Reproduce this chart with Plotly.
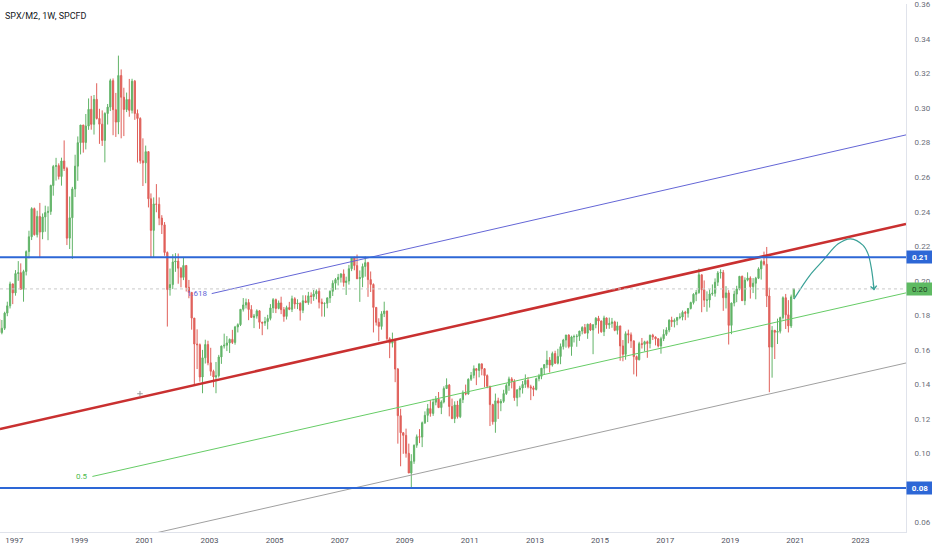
import pandas as pd
import plotly.graph_objects as go

# monthly SPX/M2 ratio, Jul 1996 .. Dec 2020
first_open = 0.1778
closes = [
    .1700, .1725, .1813, .1855, .1982, .1930,
    .2042, .2047, .1951, .2054, .2169, .2255, .2418, .2267, .2373, .2282, .2370, .2395,
    .2402, .2552, .2662, .2667, .2604, .2694, .2650, .2247, .2365, .2532, .2664, .2800,
    .2902, .2801, .2896, .2993, .2906, .3051, .2940, .2907, .2813, .2969, .3006, .3159,
    .2991, .2919, .3189, .3063, .2992, .3050, .2987, .3156, .2969, .2940, .2695, .2683,
    .2748, .2475, .2292, .2445, .2443, .2363, .2324, .2164, .1949, .1978, .2109, .2114,
    .2073, .2020, .2089, .1962, .1933, .1784, .1634, .1630, .1443, .1554, .1631, .1525,
    .1476, .1443, .1450, .1559, .1622, .1627, .1640, .1661, .1643, .1733, .1746, .1835,
    .1860, .1874, .1834, .1788, .1796, .1826, .1760, .1755, .1764, .1782, .1843, .1891,
    .1840, .1872, .1833, .1794, .1845, .1835, .1896, .1866, .1870, .1829, .1884, .1874,
    .1913, .1909, .1924, .1939, .1876, .1868, .1870, .1901, .1939, .1986, .2007, .2020,
    .2040, .1990, .1999, .2070, .2132, .2088, .2012, .2019, .2083, .2105, .2007, .1979,
    .1846, .1760, .1736, .1809, .1825, .1665, .1639, .1660, .1489, .1219, .1120, .1105,
    .1001, .0887, .0955, .1048, .1097, .1095, .1178, .1221, .1260, .1232, .1297, .1315,
    .1266, .1298, .1376, .1396, .1272, .1202, .1281, .1213, .1312, .1351, .1345, .1430,
    .1453, .1491, .1481, .1519, .1491, .1451, .1389, .1283, .1184, .1305, .1292, .1302,
    .1347, .1394, .1432, .1418, .1323, .1369, .1379, .1400, .1424, .1386, .1380, .1371,
    .1433, .1447, .1494, .1515, .1541, .1512, .1579, .1523, .1562, .1619, .1657, .1686,
    .1619, .1675, .1677, .1679, .1709, .1730, .1697, .1749, .1715, .1746, .1783, .1767,
    .1705, .1785, .1745, .1753, .1762, .1713, .1739, .1623, .1574, .1694, .1687, .1652,
    .1561, .1543, .1636, .1632, .1647, .1637, .1685, .1675, .1664, .1623, .1665, .1690,
    .1715, .1772, .1763, .1771, .1787, .1790, .1818, .1812, .1840, .1874, .1922, .1932,
    .2035, .1948, .1888, .1889, .1924, .1928, .1992, .2045, .2048, .1902, .1930, .1742,
    .1871, .1923, .1953, .2026, .1885, .2004, .2016, .1966, .1986, .2015, .2069, .2112,
    .2096, .1912, .1616, .1713, .1702, .1708, .1787, .1902, .1803, .1739, .1907, .1953,
]
highs = [
    .1790, .1773, .1821, .1879, .1995, .1984,
    .2062, .2114, .2101, .2064, .2176, .2290, .2426, .2424, .2406, .2451, .2390, .2435,
    .2431, .2557, .2671, .2712, .2680, .2713, .2813, .2660, .2488, .2544, .2730, .2836,
    .2902, .2903, .2966, .3056, .3071, .3076, .3144, .2996, .2987, .2976, .3024, .3170,
    .3172, .3088, .3304, .3224, .3118, .3090, .3169, .3170, .3163, .2992, .2947, .2825,
    .2783, .2749, .2506, .2483, .2560, .2483, .2380, .2340, .2170, .2071, .2154, .2160,
    .2158, .2080, .2137, .2089, .2005, .1935, .1785, .1719, .1637, .1600, .1659, .1653,
    .1612, .1485, .1530, .1571, .1625, .1694, .1680, .1666, .1716, .1739, .1754, .1835,
    .1900, .1897, .1894, .1859, .1808, .1835, .1830, .1763, .1791, .1803, .1865, .1900,
    .1897, .1886, .1908, .1848, .1856, .1878, .1914, .1905, .1893, .1875, .1916, .1916,
    .1936, .1933, .1947, .1950, .1959, .1897, .1874, .1904, .1945, .2003, .2016, .2040,
    .2044, .2066, .2024, .2092, .2138, .2140, .2152, .2060, .2100, .2141, .2110, .2054,
    .1985, .1847, .1783, .1824, .1879, .1827, .1673, .1700, .1665, .1495, .1259, .1124,
    .1144, .1057, .0996, .1052, .1110, .1141, .1185, .1244, .1287, .1309, .1317, .1333,
    .1356, .1308, .1389, .1435, .1402, .1318, .1302, .1305, .1321, .1365, .1399, .1435,
    .1472, .1510, .1488, .1519, .1520, .1495, .1458, .1392, .1288, .1347, .1323, .1315,
    .1369, .1406, .1445, .1442, .1430, .1370, .1392, .1420, .1458, .1443, .1398, .1392,
    .1439, .1461, .1495, .1515, .1595, .1558, .1590, .1595, .1606, .1637, .1664, .1687,
    .1690, .1682, .1688, .1691, .1710, .1737, .1750, .1751, .1756, .1747, .1790, .1797,
    .1770, .1798, .1787, .1787, .1785, .1769, .1763, .1739, .1657, .1707, .1717, .1701,
    .1655, .1567, .1647, .1669, .1653, .1654, .1688, .1693, .1678, .1668, .1676, .1719,
    .1731, .1777, .1792, .1782, .1791, .1812, .1828, .1826, .1841, .1879, .1928, .1947,
    .2070, .2036, .2002, .1939, .1950, .1979, .2014, .2056, .2067, .2062, .1969, .1946,
    .1874, .1943, .1971, .2028, .2030, .2020, .2049, .2026, .2016, .2023, .2078, .2123,
    .2169, .2196, .1960, .1738, .1716, .1781, .1792, .1910, .1924, .1888, .1920, .1953,
]
lows = [
    .1610, .1690, .1715, .1795, .1840, .1865,
    .1914, .2000, .1948, .1879, .2031, .2130, .2236, .2262, .2251, .2132, .2241, .2284,
    .2235, .2382, .2493, .2580, .2587, .2551, .2636, .2207, .2184, .2127, .2485, .2579,
    .2732, .2742, .2761, .2874, .2875, .2847, .2934, .2793, .2781, .2686, .2905, .2983,
    .2843, .2833, .2849, .2825, .2838, .2977, .2950, .2969, .2932, .2685, .2678, .2549,
    .2565, .2425, .2136, .2137, .2397, .2322, .2271, .2145, .1735, .1914, .1952, .2052,
    .1983, .1962, .2004, .1938, .1899, .1717, .1391, .1489, .1416, .1349, .1521, .1511,
    .1450, .1384, .1349, .1440, .1519, .1608, .1593, .1582, .1634, .1630, .1701, .1738,
    .1822, .1840, .1772, .1788, .1726, .1781, .1722, .1685, .1739, .1719, .1771, .1814,
    .1813, .1835, .1807, .1763, .1776, .1830, .1819, .1838, .1836, .1770, .1813, .1871,
    .1861, .1867, .1884, .1893, .1840, .1793, .1792, .1841, .1872, .1912, .1948, .1973,
    .1990, .1966, .1918, .1978, .2056, .2061, .2010, .1878, .1963, .2024, .1907, .1935,
    .1701, .1741, .1650, .1717, .1790, .1654, .1552, .1614, .1413, .1057, .0926, .0998,
    .0976, .0887, .0798, .0940, .1033, .1060, .1037, .1171, .1182, .1213, .1218, .1279,
    .1263, .1228, .1290, .1376, .1215, .1199, .1176, .1202, .1205, .1292, .1337, .1340,
    .1420, .1435, .1396, .1441, .1453, .1384, .1378, .1159, .1167, .1120, .1200, .1245,
    .1293, .1339, .1363, .1377, .1305, .1273, .1325, .1347, .1380, .1377, .1309, .1332,
    .1365, .1418, .1430, .1456, .1494, .1469, .1503, .1518, .1516, .1517, .1602, .1613,
    .1609, .1566, .1643, .1618, .1652, .1690, .1696, .1664, .1709, .1575, .1725, .1694,
    .1699, .1680, .1722, .1722, .1728, .1708, .1689, .1537, .1534, .1543, .1638, .1611,
    .1458, .1446, .1539, .1608, .1591, .1554, .1609, .1657, .1626, .1614, .1578, .1651,
    .1681, .1702, .1733, .1730, .1743, .1777, .1771, .1772, .1787, .1834, .1863, .1882,
    .1925, .1818, .1848, .1821, .1845, .1914, .1908, .1970, .2013, .1826, .1840, .1631,
    .1691, .1852, .1876, .1945, .1884, .1859, .1997, .1897, .1929, .1893, .2010, .2007,
    .2088, .1848, .1355, .1439, .1547, .1634, .1695, .1776, .1721, .1701, .1727, .1895,
]

months = pd.date_range("1996-07-01", periods=len(closes), freq="MS") + pd.Timedelta(days=14)
opens = [first_open] + closes[:-1]

# drawings
hlevels = [0.2137, 0.08]
red_line = (["1996-07-25", "2024-05-27"], [0.1141, 0.2329])
fib_1618 = (["2003-01-26", "2024-05-27"], [0.1926, 0.2845])
fib_05 = (["1999-05-28", "2024-05-27"], [0.0867, 0.1930])
gray_line = (["2001-05-18", "2024-05-27"], [0.0541, 0.1524])
arrow_dates = ["2020-12-16", "2021-06-13", "2021-11-09", "2022-04-27", "2022-09-13",
               "2023-02-01", "2023-03-28", "2023-05-05", "2023-06-04"]
arrow_vals = [0.1894, 0.2032, 0.2118, 0.2214, 0.2243, 0.2205, 0.2156, 0.2070, 0.1946]
cross_pt = (["2000-11-12"], [0.1346])

year_ticks = [str(y) for y in range(1997, 2024, 2)]
y_ticks = [0.06, 0.08, 0.10, 0.12, 0.14, 0.16, 0.18, 0.20, 0.22, 0.24, 0.26, 0.28, 0.30, 0.32, 0.34, 0.36]

blue = "#2d67d6"
teal = "#3aa197"
fig = go.Figure()

fig.add_trace(go.Candlestick(
    x=months, open=opens, high=highs, low=lows, close=closes,
    increasing=dict(line=dict(color="#62b468", width=1), fillcolor="#62b468"),
    decreasing=dict(line=dict(color="#e0605a", width=1), fillcolor="#e0605a"),
    showlegend=False, hoverinfo="skip",
))

for (xs, ys), col, w in [(red_line, "#c93030", 2.5), (fib_1618, "#6466d6", 1),
                         (fib_05, "#66cc66", 1), (gray_line, "#a0a0a0", 1)]:
    fig.add_trace(go.Scatter(x=xs, y=ys, mode="lines", line=dict(color=col, width=w),
                             showlegend=False, hoverinfo="skip"))

fig.add_trace(go.Scatter(x=arrow_dates, y=arrow_vals, mode="lines",
                         line=dict(color=teal, width=1.2, shape="spline"),
                         showlegend=False, hoverinfo="skip"))
fig.add_annotation(x=arrow_dates[-1], y=arrow_vals[-1], ax=-1, ay=-8, axref="pixel", ayref="pixel",
                   text="", showarrow=True, arrowhead=4, arrowsize=1, arrowwidth=1.2,
                   arrowcolor=teal)
fig.add_trace(go.Scatter(x=cross_pt[0], y=cross_pt[1], mode="markers",
                         marker=dict(symbol="cross-thin", size=4, line=dict(color="#9a9a9a", width=1)),
                         showlegend=False, hoverinfo="skip"))

for lv in hlevels:
    fig.add_shape(type="line", xref="paper", x0=0, x1=1, y0=lv, y1=lv, line=dict(color=blue, width=2))
    fig.add_annotation(xref="paper", x=1, xanchor="left", y=lv, yanchor="middle", text=f"<b>{lv:.2f}</b>",
                       showarrow=False, bgcolor=blue, font=dict(color="white", size=8, family="Roboto"),
                       width=24, height=10, borderpad=1)

last = closes[-1]
fig.add_shape(type="line", xref="paper", x0=0, x1=1, y0=last, y1=last,
              line=dict(color="#c9c9c9", width=1, dash="dot"))
fig.add_annotation(xref="paper", x=1, xanchor="left", y=last, yanchor="middle", text=f"{last:.2f}",
                   showarrow=False, bgcolor="#5eba62", font=dict(color="#1f3f22", size=8, family="Roboto"),
                   width=24, height=10, borderpad=1)

fig.add_annotation(x=fib_1618[0][0], y=fib_1618[1][0], text="1.618", showarrow=False, xanchor="right",
                   xshift=-2, font=dict(color="#6466d6", size=8, family="Roboto"))
fig.add_annotation(x=fib_05[0][0], y=fib_05[1][0], text="0.5", showarrow=False, xanchor="right",
                   xshift=-2, font=dict(color="#4cbb4c", size=8, family="Roboto"))

fig.add_annotation(xref="paper", yref="paper", x=0, y=1, xanchor="left", yanchor="top", xshift=3, yshift=-5,
                   text="SPX/M2, 1W, SPCFD", showarrow=False,
                   font=dict(color="#131722", size=9, family="Roboto"))

fig.update_layout(
    width=932, height=550,
    margin=dict(l=0, r=26, t=0, b=18),
    paper_bgcolor="white", plot_bgcolor="white",
    font=dict(family="Roboto", size=8, color="#6a6d78"),
    xaxis=dict(
        type="date", range=["1996-07-25", "2024-05-27"],
        tickvals=[f"{y}-01-01" for y in year_ticks], ticktext=year_ticks,
        showgrid=False, zeroline=False, showline=True, linecolor="#e0e3eb", linewidth=1,
        ticks="", rangeslider=dict(visible=False), tickfont=dict(size=8, color="#50535e"),
    ),
    yaxis=dict(
        side="right", range=[0.05454, 0.36029], tickvals=y_ticks, tickformat=".2f",
        showgrid=False, zeroline=False, showline=True, linecolor="#e0e3eb", linewidth=1,
        ticks="", ticklabelstandoff=6, ticklabeloverflow="allow",
        tickfont=dict(size=8, color="#6a6d78"),
    ),
)

# page has a default body margin; drop it so the figure sits at the window corner
fig.write_html("out.html", config={"displayModeBar": False},
               post_script="document.body.style.margin='0';")
